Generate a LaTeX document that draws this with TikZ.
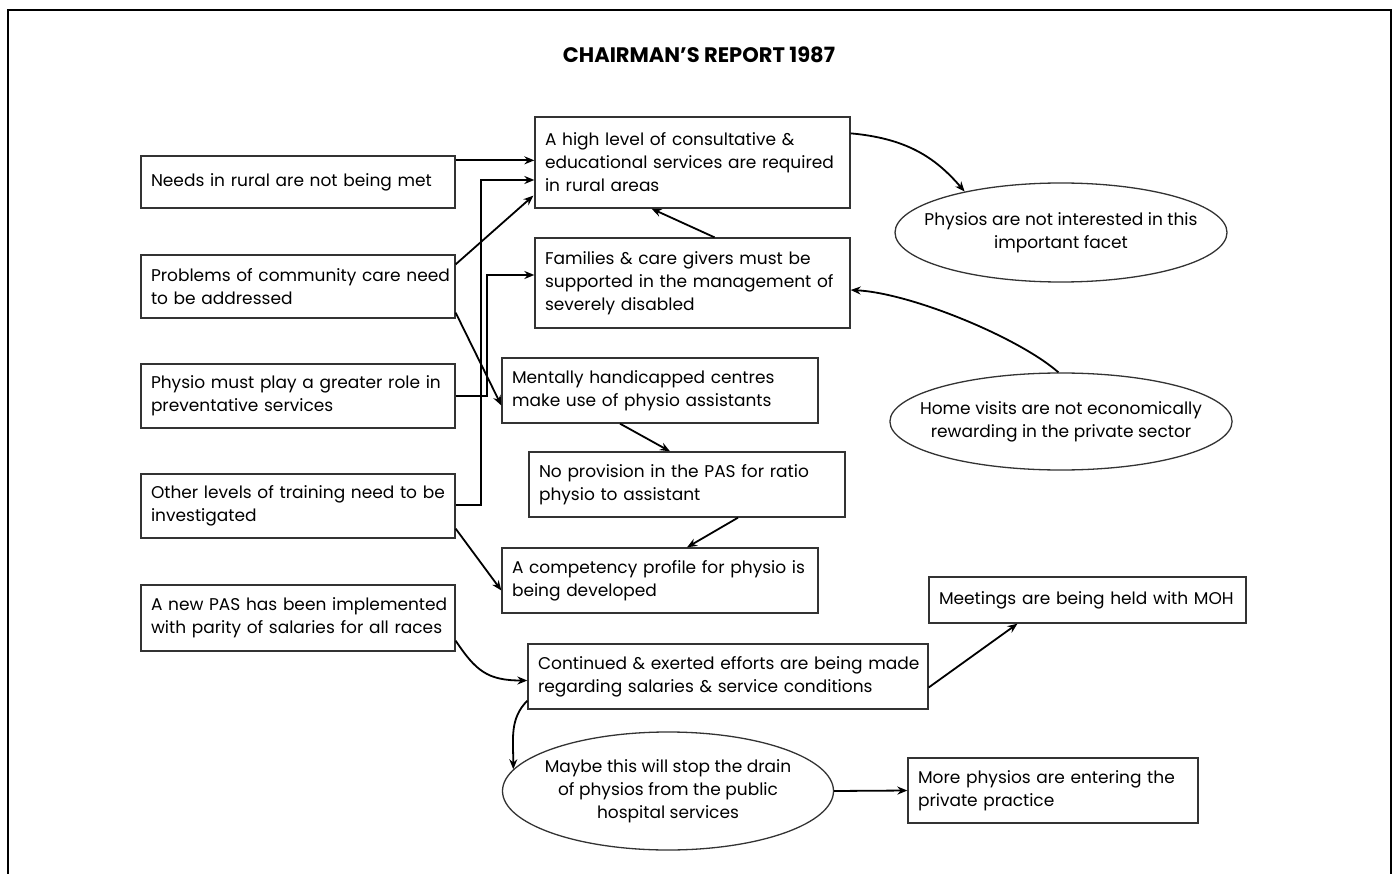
\documentclass[tikz,border=0pt]{standalone}
\usepackage{fontspec}
\setmainfont{Poppins}
\usetikzlibrary{arrows.meta,calc,shapes.geometric}
\newcommand\oneline[1]{\mbox{#1}}
\begin{document}
\begin{tikzpicture}[x=1pt,y=-1pt,
  every node/.style={font=\fontsize{17}{23}\selectfont},
  box/.style={draw=black!80,line width=1.3pt,rectangle,align=left,inner xsep=10pt,inner ysep=0pt,anchor=center},
  ell/.style={draw=black!80,line width=1.3pt,ellipse,align=center,inner xsep=-20pt,inner ysep=0pt,anchor=center},
  arr/.style={line width=1.8pt,-{Stealth[length=10pt,width=8pt]}},
  frame/.style={line width=2pt}]
\useasboundingbox (0,0) rectangle (1399,874);
\draw[frame] (8,874) -- (8,10) -- (1391,10) -- (1391,874);
\node[font=\fontsize{21}{23}\selectfont\bfseries] (title) at (699,55) {CHAIRMAN'S REPORT 1987};
% left column
\node[box,minimum width=314,minimum height=52,text width=294] (L1) at (298,182) {\oneline{Needs in rural are not being met}};
\node[box,minimum width=314,minimum height=63,text width=294] (L2) at (298,286.5) {\oneline{Problems of community care need}\\\oneline{to be addressed}};
\node[box,minimum width=314,minimum height=64,text width=294] (L3) at (298,396) {\oneline{Physio must play a greater role in}\\\oneline{preventative services}};
\node[box,minimum width=314,minimum height=64,text width=294] (L4) at (298,506) {\oneline{Other levels of training need to be}\\\oneline{investigated}};
\node[box,minimum width=314,minimum height=66,text width=294] (L5) at (298,618) {\oneline{A new PAS has been implemented}\\\oneline{with parity of salaries for all races}};
% middle column
\node[box,minimum width=315,minimum height=91,text width=295] (M1) at (692.5,162.5) {\oneline{A high level of consultative \&}\\\oneline{educational services are required}\\\oneline{in rural areas}};
\node[box,minimum width=315,minimum height=90,text width=295] (M2) at (692.5,283) {\oneline{Families \& care givers must be}\\\oneline{supported in the management of}\\\oneline{severely disabled}};
\node[box,minimum width=316,minimum height=65,text width=296] (M3) at (660,390.5) {\oneline{Mentally handicapped centres}\\\oneline{make use of physio assistants}};
\node[box,minimum width=316,minimum height=65,text width=296] (M4) at (687,484.5) {\oneline{No provision in the PAS for ratio}\\\oneline{physio to assistant}};
\node[box,minimum width=316,minimum height=65,text width=296] (M5) at (660,580.5) {\oneline{A competency profile for physio is}\\\oneline{being developed}};
\node[box,minimum width=400,minimum height=65,text width=380] (M6) at (728,676.5) {\oneline{Continued \& exerted efforts are being made}\\\oneline{regarding salaries \& service conditions}};
\node[ell,minimum width=331,minimum height=118] (E3) at (668,791) {Maybe this will stop the drain\\of physios from the public\\hospital services};
% right column
\node[ell,minimum width=332,minimum height=99] (E1) at (1061,232.5) {Physios are not interested in this\\important facet};
\node[ell,minimum width=332,minimum height=97] (E2) at (1061,421.5) {Home visits are not economically\\rewarding in the private sector};
\node[box,minimum width=317,minimum height=46,text width=297] (R1) at (1087.5,600) {\oneline{Meetings are being held with MOH}};
\node[box,minimum width=290,minimum height=65,text width=270] (R2) at (1053,790.5) {\oneline{More physios are entering the}\\\oneline{private practice}};
% connectors
\coordinate (a1) at ($(L1.north east)+(0,5)$);
\draw[arr] (a1) -- (a1 -| M1.west);
\draw[arr] ($(L4.east)+(0,-1)$) -| ($(M1.west)+(-53,17.5)$) -- ($(M1.west)+(0,17.5)$);
\draw[arr] (L3.east) -| ($(M2.west)+(-47,-8)$) -- ($(M2.west)+(0,-8)$);
\draw[arr] ($(L2.north east)+(0,10)$) -- ($(M1.south west)+(-1,-13)$);
\draw[arr] ($(L2.south east)+(0,-6)$) -- ($(M3.west)+(0,15)$);
\draw[arr] ($(M2.north)+(22,0)$) -- ($(M1.south)+(-41,0)$);
\draw[arr] ($(M3.south)+(-40,0)$) -- ($(M4.north)+(-17,0)$);
\draw[arr] ($(M4.south)+(51,0)$) -- ($(M5.north)+(27,0)$);
\draw[arr] ($(L4.south east)+(0,-10)$) -- ($(M5.west)+(0,10)$);
\draw[arr] ($(L5.south east)+(0,-11)$) .. controls +(20,30) and +(-40,0) .. ($(M6.west)+(0,4)$);
\draw[arr] ($(M6.south west)+(0,-9)$) .. controls +(-18,18) and +(0,-30) .. (E3.172);
\draw[arr] (E3.east) -- (R2.west);
\draw[arr] ($(M6.east)+(0,11)$) -- ($(R1.south)+(-70,0)$);
\draw[arr] ($(M1.north east)+(0,17)$) .. controls +(55,5) and +(-30,-35) .. (E1.157);
\draw[arr] (E2.93) .. controls +(-40,-35) and +(60,3) .. ($(M2.east)+(0,7)$);
\end{tikzpicture}
\end{document}
